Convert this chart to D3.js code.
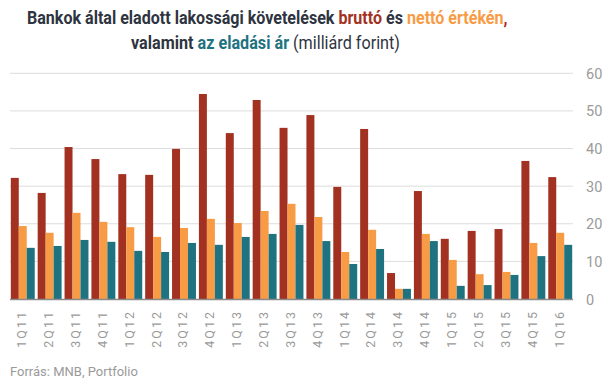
<!DOCTYPE html>
<html><head><meta charset="utf-8">
<script src="https://cdn.jsdelivr.net/npm/d3@7"></script>
<style>body{margin:0;background:#fff;}svg{display:block;font-family:Roboto,"Noto Sans",sans-serif;}</style>
</head><body>
<svg id="c" width="609" height="382"></svg>
<script>
const categories = ["1Q11","2Q11","3Q11","4Q11","1Q12","2Q12","3Q12","4Q12","1Q13","2Q13","3Q13","4Q13","1Q14","2Q14","3Q14","4Q14","1Q15","2Q15","3Q15","4Q15","1Q16"];
const brutto = [32.2,28.2,40.4,37.2,33.2,33.0,39.9,54.5,44.1,52.9,45.5,48.9,29.8,45.2,6.9,28.7,16.0,18.1,18.6,36.7,32.4];
const netto  = [19.4,17.6,22.9,20.5,19.1,16.5,18.9,21.3,20.2,23.4,25.3,21.8,12.5,18.4,2.7,17.3,10.4,6.6,7.2,14.9,17.6];
const ar     = [13.6,14.1,15.7,15.2,12.8,12.5,14.9,14.4,16.5,17.3,19.7,15.4,9.3,13.3,2.7,15.4,3.5,3.7,6.4,11.4,14.4];
const yTicks = [0,10,20,30,40,50,60];
const seriesNames = ["brutto","netto","ar"];
const colors = {brutto:"#a33122", netto:"#f79b45", ar:"#1f7280"};

(function(){
const svg = d3.select("#c");
const pL = 10, pR = 573, pT = 73.3, pB = 299;
const x = d3.scaleBand().domain(categories).range([pL, pR]).paddingInner(0.11).paddingOuter(0.03);
const xs = d3.scaleBand().domain(seriesNames).range([0, x.bandwidth()]);
const y = d3.scaleLinear().domain([0, 60]).range([pB, pT]);

svg.append("g").selectAll("line").data(yTicks.filter(d=>d>0)).join("line")
  .attr("x1", pL).attr("x2", pR)
  .attr("y1", d=>y(d)).attr("y2", d=>y(d))
  .attr("stroke", "#dcdcdc").attr("stroke-width", 1);

const yAxis = d3.axisRight(y).tickValues(yTicks).tickSize(0).tickPadding(0);
const ga = svg.append("g").attr("transform", `translate(586,0)`).call(yAxis);
ga.select(".domain").remove();
ga.selectAll("text").attr("fill", "#9a9a9a").style("font-size", "14.5px").style("font-family", "Roboto").attr("x", 0).attr("dy", "0.35em");

const data = categories.map((c,i)=>({c, brutto:brutto[i], netto:netto[i], ar:ar[i]}));
const g = svg.append("g");
g.selectAll("g").data(data).join("g")
  .attr("transform", d=>`translate(${x(d.c)},0)`)
  .selectAll("rect").data(d=>seriesNames.map(k=>({k, v:d[k]}))).join("rect")
  .attr("x", d=>xs(d.k)).attr("width", xs.bandwidth())
  .attr("y", d=>y(d.v)).attr("height", d=>y(0)-y(d.v))
  .attr("fill", d=>colors[d.k]);

svg.append("line").attr("x1", pL).attr("x2", pR).attr("y1", y(0)+0.5).attr("y2", y(0)+0.5)
  .attr("stroke", "#8a8a8a").attr("stroke-width", 1.5);

const xAxis = d3.axisBottom(x).tickSize(0).tickPadding(0);
const gx = svg.append("g").attr("transform", `translate(0,${y(0)})`).call(xAxis);
gx.select(".domain").remove();
gx.selectAll("text").attr("fill", "#9a9a9a").style("font-size", "12.5px").style("font-family", "Roboto")
  .style("letter-spacing", "2px")
  .attr("transform", "rotate(-90)").attr("text-anchor", "end")
  .attr("x", -11).attr("y", -1).attr("dy", "0.35em");

function titleLine(cx, yy, target, parts){
  const gg = svg.append("g");
  const t = gg.append("text").attr("x", 0).attr("y", yy)
    .style("font-size", "18px").style("font-weight", "bold").attr("fill", "#2e3440");
  parts.forEach(p=>{
    const s = t.append("tspan").text(p[0]);
    if (p[1]) s.attr("fill", p[1]);
    if (p[2]) s.style("font-weight", p[2]);
  });
  const w = t.node().getComputedTextLength();
  const k = target / w;
  gg.attr("transform", `translate(${cx - target/2},0) scale(${k},1)`);
}
titleLine(267.5, 24, 481, [
  ["Bankok által eladott lakossági követelések "],
  ["bruttó", colors.brutto],
  [" és "],
  ["nettó értékén", colors.netto],
  [",", colors.brutto]
]);
titleLine(265.5, 49, 269, [
  ["valamint "],
  ["az eladási ár", colors.ar],
  [" (milliárd forint)", null, "normal"]
]);

svg.append("text").attr("x", 10).attr("y", 376).attr("fill", "#9a9a9a")
  .style("font-size", "13px").text("Forrás: MNB, Portfolio");
})();
</script>
</body></html>
